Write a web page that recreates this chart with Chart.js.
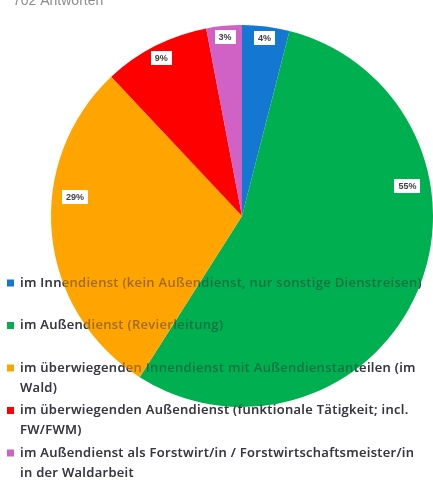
<!DOCTYPE html>
<html>
<head>
<meta charset="utf-8">
<script src="https://cdn.jsdelivr.net/npm/chart.js@4/dist/chart.umd.min.js"></script>
<style>
  html, body { margin: 0; padding: 0; background: #ffffff; overflow: hidden; }
  #wrap { position: relative; width: 433px; height: 481px; }
</style>
</head>
<body>
<div id="wrap"><canvas id="c"></canvas></div>
<script>
// Categories and answer shares (percent of 702 answers)
const categories = [
  'im Innendienst (kein Außendienst, nur sonstige Dienstreisen)',
  'im Außendienst (Revierleitung)',
  'im überwiegenden Innendienst mit Außendienstanteilen (im Wald)',
  'im überwiegenden Außendienst (funktionale Tätigkeit; incl. FW/FWM)',
  'im Außendienst als Forstwirt/in / Forstwirtschaftsmeister/in in der Waldarbeit'
];
const shares = [4, 55, 29, 9, 3];
const valueLabels = shares.map(v => v + '%');
const subtitle = '702 Antworten';

const sliceColors = ['#1478D2', '#00B050', '#FFA400', '#FF0000', '#D062C6'];

// Where each value label sits in its slice: share of the sweep, share of the radius
const labelSpots = [
  { t: 0.5,   r: 0.94 },
  { t: 0.33,  r: 0.88 },
  { t: 0.614, r: 0.88 },
  { t: 0.5,   r: 0.93 },
  { t: 0.5,   r: 0.94 }
];

const legendFont = '600 13px "Open Sans", "Liberation Sans", sans-serif';
const legendSpacing = '0.3px';
const legendLeft = 20;
const legendMaxWidth = 410;
const legendFirstY = 283;
const legendStep = 42.5;
const legendLineHeight = 20;

function wrapText(ctx, text, maxW) {
  const words = text.split(' ');
  const lines = [];
  let cur = '';
  for (const w of words) {
    const test = cur ? cur + ' ' + w : w;
    if (cur && ctx.measureText(test).width > maxW) {
      lines.push(cur);
      cur = w;
    } else {
      cur = test;
    }
  }
  if (cur) lines.push(cur);
  return lines;
}

function drawLegend(chart, textColor, withSwatches) {
  const ctx = chart.ctx;
  const labels = chart.data.labels;
  const colors = chart.data.datasets[0].backgroundColor;
  ctx.save();
  ctx.font = legendFont;
  ctx.letterSpacing = legendSpacing;
  ctx.textBaseline = 'middle';
  ctx.textAlign = 'left';
  labels.forEach((label, i) => {
    const y0 = legendFirstY + i * legendStep;
    if (withSwatches) {
      ctx.fillStyle = colors[i];
      ctx.fillRect(7, y0 - 3.5, 7, 7);
    }
    ctx.fillStyle = textColor;
    wrapText(ctx, label, legendMaxWidth).forEach((line, k) => {
      ctx.fillText(line, legendLeft, y0 + k * legendLineHeight);
    });
  });
  ctx.restore();
}

const overlayPlugin = {
  id: 'overlay',
  beforeDatasetsDraw(chart) {
    const ctx = chart.ctx;
    ctx.save();
    ctx.font = '14px "Liberation Sans", sans-serif';
    ctx.fillStyle = '#8c8c8c';
    ctx.textBaseline = 'alphabetic';
    ctx.fillText(subtitle, 13, 5);
    ctx.restore();
    drawLegend(chart, '#45454f', true);
  },
  afterDatasetsDraw(chart) {
    const ctx = chart.ctx;
    const meta = chart.getDatasetMeta(0);
    ctx.save();
    ctx.font = 'bold 9px "Liberation Sans", sans-serif';
    ctx.textAlign = 'center';
    ctx.textBaseline = 'middle';
    meta.data.forEach((arc, i) => {
      const p = arc.getProps(['x', 'y', 'startAngle', 'endAngle', 'outerRadius'], true);
      const spot = labelSpots[i];
      const a = p.startAngle + spot.t * (p.endAngle - p.startAngle);
      const r = p.outerRadius * spot.r;
      const cx = p.x + Math.cos(a) * r;
      const cy = p.y + Math.sin(a) * r;
      const txt = valueLabels[i];
      const w = ctx.measureText(txt).width + 8;
      const h = 14;
      ctx.fillStyle = '#ffffff';
      ctx.fillRect(Math.round(cx - w / 2), Math.round(cy - h / 2), Math.round(w), h);
      ctx.fillStyle = '#404048';
      ctx.fillText(txt, cx, cy + 0.5);
    });
    ctx.restore();
  },
  afterDraw(chart) {
    drawLegend(chart, 'rgba(40,40,50,0.45)', false);
  }
};

new Chart(document.getElementById('c'), {
  type: 'pie',
  data: {
    labels: categories,
    datasets: [{
      data: shares,
      backgroundColor: sliceColors,
      borderWidth: 0
    }]
  },
  options: {
    responsive: true,
    maintainAspectRatio: false,
    animation: false,
    layout: { padding: { left: 51, right: 0, top: 25, bottom: 74 } },
    plugins: {
      legend: { display: false },
      tooltip: { enabled: false }
    }
  },
  plugins: [overlayPlugin]
});
</script>
</body>
</html>
